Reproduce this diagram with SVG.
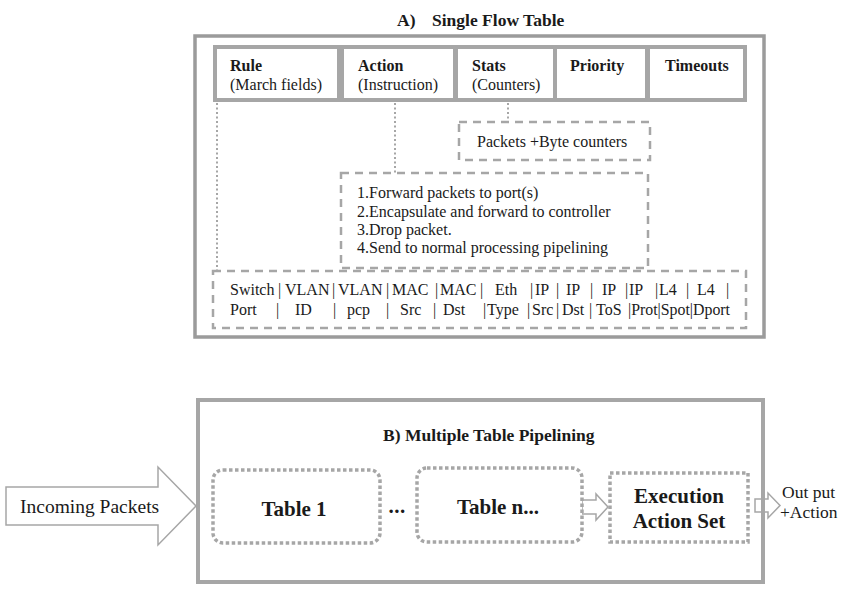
<svg xmlns="http://www.w3.org/2000/svg" width="845" height="591" viewBox="0 0 845 591">
<style>
text{font-family:"Liberation Serif","Times New Roman",serif;fill:#1a1a1a}
.b{font-weight:bold}
.t16{font-size:16px}
.frame{fill:none;stroke:#9b9b9b;stroke-width:3.5}
.dash{fill:#fff;stroke:#a6a6a6;stroke-width:2.5;stroke-dasharray:8 6}
.dot{fill:none;stroke:#a6a6a6;stroke-width:2;stroke-dasharray:2 2.5}
.tbl{fill:#fff;stroke:#a6a6a6;stroke-width:3.5;stroke-dasharray:3.5 2.5}
.arr{fill:#fff;stroke:#a6a6a6;stroke-width:1.5}
.cell{fill:#fff}
</style>
<rect width="845" height="591" fill="#fff"/>

<!-- Section A -->
<g id="titleA"><text class="b" font-size="17.5" y="26"><tspan x="397">A)</tspan><tspan x="432">Single Flow Table</tspan></text></g>
<g id="boxA"><rect class="frame" x="195" y="36" width="569" height="301"/></g>

<g id="header">
<rect x="213" y="45" width="534" height="57" fill="#a6a6a6"/>
<rect class="cell" x="217" y="49" width="120" height="49"/>
<rect class="cell" x="344" y="49" width="109" height="49"/>
<rect class="cell" x="458" y="49" width="95" height="49"/>
<rect class="cell" x="557" y="49" width="88" height="49"/>
<rect class="cell" x="650" y="49" width="93" height="49"/>
<text class="t16"><tspan class="b" x="230" y="71">Rule</tspan><tspan x="230" y="90">(March fields)</tspan></text>
<text class="t16"><tspan class="b" x="358" y="71">Action</tspan><tspan x="358" y="90">(Instruction)</tspan></text>
<text class="t16"><tspan class="b" x="472" y="71">Stats</tspan><tspan x="472" y="90">(Counters)</tspan></text>
<text class="t16 b" x="570" y="71">Priority</text>
<text class="t16 b" x="665" y="71">Timeouts</text>
</g>

<g id="connectors">
<line class="dot" x1="217" y1="103" x2="217" y2="270"/>
<line class="dot" x1="395" y1="103" x2="395" y2="173"/>
<line class="dot" x1="508" y1="103" x2="508" y2="122"/>
<path class="arr" d="M582,500 H596 V494 L608,507 L596,520 V514 H582 Z"/>
<path class="arr" d="M755,499 H768 V493 L780,505.5 L768,518 V512 H755 Z"/>
</g>

<g id="counters">
<rect class="dash" x="459" y="122" width="191" height="38"/>
<text class="t16" x="477" y="147">Packets +Byte counters</text>
</g>

<g id="instructions">
<rect class="dash" x="341" y="173" width="307" height="95"/>
<text class="t16"><tspan x="357" y="198">1.Forward packets to port(s)</tspan><tspan x="357" y="217">2.Encapsulate and forward to controller</tspan><tspan x="357" y="235">3.Drop packet.</tspan><tspan x="357" y="253">4.Send to normal processing pipelining</tspan></text>
</g>

<g id="fields">
<rect class="dash" x="213" y="271" width="533" height="57"/>
<text class="t16" y="295"><tspan x="230">Switch</tspan><tspan x="278">|</tspan><tspan x="285">VLAN</tspan><tspan x="332">|</tspan><tspan x="338">VLAN</tspan><tspan x="386">|</tspan><tspan x="392">MAC</tspan><tspan x="435">|</tspan><tspan x="440">MAC</tspan><tspan x="480">|</tspan><tspan x="495">Eth</tspan><tspan x="530">|</tspan><tspan x="535">IP</tspan><tspan x="556">|</tspan><tspan x="566">IP</tspan><tspan x="590">|</tspan><tspan x="602">IP</tspan><tspan x="625">|</tspan><tspan x="629">IP</tspan><tspan x="655">|</tspan><tspan x="659">L4</tspan><tspan x="686">|</tspan><tspan x="697">L4</tspan><tspan x="726">|</tspan></text>
<text class="t16" y="315"><tspan x="230">Port</tspan><tspan x="276">|</tspan><tspan x="295">ID</tspan><tspan x="333">|</tspan><tspan x="347">pcp</tspan><tspan x="386">|</tspan><tspan x="400">Src</tspan><tspan x="433">|</tspan><tspan x="443">Dst</tspan><tspan x="483">|</tspan><tspan x="487">Type</tspan><tspan x="527">|</tspan><tspan x="532">Src</tspan><tspan x="556">|</tspan><tspan x="562">Dst</tspan><tspan x="589">|</tspan><tspan x="596">ToS</tspan></text>
<text class="t16" x="628" y="315" textLength="102" lengthAdjust="spacingAndGlyphs">|Prot|Spot|Dport</text>
</g>

<!-- Section B -->
<g id="boxB">
<rect x="198" y="400" width="565" height="182" fill="none" stroke="#a6a6a6" stroke-width="4"/>
<text class="b" font-size="17.5" x="383" y="441">B) Multiple Table Pipelining</text>
</g>

<g id="incoming">
<path class="arr" d="M6,487 H158 V467 L196,506 L158,545 V525 H6 Z"/>
<text font-size="19.5" x="20" y="513">Incoming Packets</text>
</g>

<g id="table1">
<rect class="tbl" x="213" y="470" width="167" height="73" rx="10"/>
<text class="b" font-size="21" x="294" y="516" text-anchor="middle">Table 1</text>
</g>
<g id="ellipsis"><text class="b" font-size="21" x="397" y="513" text-anchor="middle" letter-spacing="0.5">...</text></g>
<g id="tablen">
<rect class="tbl" x="417" y="468" width="165" height="74" rx="10"/>
<text class="b" font-size="21" x="498" y="514" text-anchor="middle">Table n...</text>
</g>
<g id="execution">
<rect class="tbl" x="610" y="473" width="138" height="69"/>
<text class="b" font-size="21" text-anchor="middle"><tspan x="679" y="503">Execution</tspan><tspan x="679" y="528">Action Set</tspan></text>
</g>
<g id="output">
<text font-size="17.5"><tspan x="782" y="498">Out put</tspan><tspan x="780" y="518">+Action</tspan></text>
</g>
</svg>
